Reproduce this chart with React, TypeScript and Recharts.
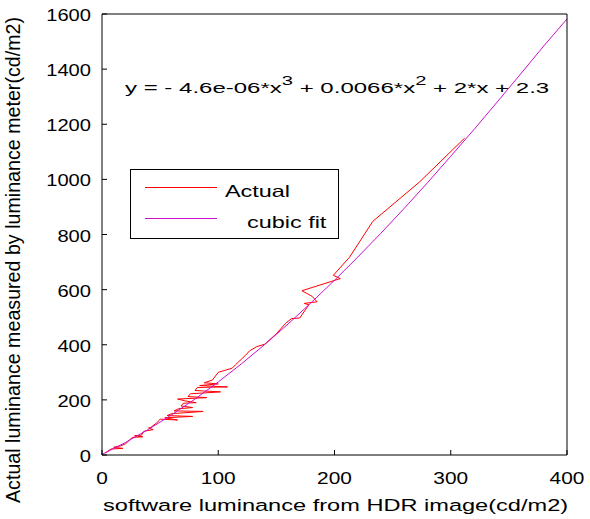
import React from "react";
import {
  LineChart,
  Line,
  XAxis,
  YAxis,
  Legend,
  Customized,
} from "recharts";

// tick values
const xTicks = [0, 100, 200, 300, 400];
const yTicks = [0, 200, 400, 600, 800, 1000, 1200, 1400, 1600];

// measured points, in recording order (hence the zigzags)
const actualX = [3, 8, 18, 10, 16, 20, 24, 26, 35, 28, 34, 36, 44, 40, 42, 48, 50, 65, 54, 78, 56, 60, 87, 62, 66, 78, 68, 70, 81, 72, 65, 90, 74, 76, 102, 80, 82, 108, 84, 100, 88, 95, 100, 112, 115, 123, 127, 133, 140, 150, 158, 163, 170, 178, 174, 185, 181, 172, 205, 199, 213, 233, 273, 312];
const actualY = [8, 22, 24, 28, 33, 40, 55, 64, 66, 70, 72, 86, 92, 98, 100, 120, 130, 127, 135, 140, 143, 150, 158, 160, 168, 172, 178, 188, 190, 196, 203, 208, 212, 222, 229, 234, 245, 247, 252, 258, 262, 272, 300, 315, 328, 360, 378, 393, 402, 440, 478, 495, 497, 545, 550, 556, 575, 596, 640, 652, 718, 848, 990, 1150];

// cubic fit curve
const fitX = [0, 20, 40, 60, 80, 100, 120, 140, 160, 180, 200, 220, 240, 260, 280, 300, 320, 340, 360, 380, 400];
const fitY = [2, 45, 93, 146, 203, 265, 331, 401, 475, 553, 634, 718, 805, 895, 988, 1084, 1181, 1281, 1382, 1484, 1582];

const actualData = actualX.map((x, i) => ({ x, y: actualY[i] }));
const fitData = fitX.map((x, i) => ({ x, y: fitY[i] }));

const FONT = "'Liberation Sans', Arial, sans-serif";
const RED = "#ff0000";
const FIT = "#cc11cc";
// the original figure is widened horizontally
const SX = 1.42;

const BottomTick = ({ x, y, payload }: any) => (
  <g>
    <line x1={x} x2={x} y1={y} y2={y - 5} stroke="#000" />
    <text
      x={x}
      y={y + 29}
      textAnchor="middle"
      fontFamily={FONT}
      fontSize={16.5}
      fill="#000"
      textLength={String(payload.value).length * 11.6}
      lengthAdjust="spacingAndGlyphs"
    >
      {payload.value}
    </text>
  </g>
);

const LeftTick = ({ x, y, payload }: any) => (
  <g>
    <line x1={x} x2={x + 5} y1={y} y2={y} stroke="#000" />
    <text
      x={x - 11}
      y={y + 7}
      textAnchor="end"
      fontFamily={FONT}
      fontSize={16.5}
      fill="#000"
      textLength={String(payload.value).length * 11.2}
      lengthAdjust="spacingAndGlyphs"
    >
      {payload.value}
    </text>
  </g>
);

const TopTick = ({ x, y }: any) => (
  <line x1={x} x2={x} y1={y} y2={y + 5} stroke="#000" />
);

const RightTick = ({ x, y }: any) => (
  <line x1={x} x2={x - 5} y1={y} y2={y} stroke="#000" />
);

// horizontally stretched text
const T = ({ x, y, size, sx = SX, anchor = "start", children }: any) => (
  <g transform={`translate(${x},${y}) scale(${sx},1)`}>
    <text x={0} y={0} textAnchor={anchor} fontFamily={FONT} fontSize={size} fill="#000">
      {children}
    </text>
  </g>
);

const Labels = () => (
  <g>
    <T x={125} y={93} size={15.5} sx={1.55}>
      y = - 4.6e-06*x
      <tspan dy={-8} fontSize={13}>3</tspan>
      <tspan dy={8}> + 0.0066*x</tspan>
      <tspan dy={-8} fontSize={13}>2</tspan>
      <tspan dy={8}> + 2*x + 2.3</tspan>
    </T>
    <T x={103} y={511} size={16.5} sx={1.43}>
      software luminance from HDR image(cd/m2)
    </T>
    <text
      x={0}
      y={0}
      transform="translate(20,260) rotate(-90)"
      textAnchor="middle"
      fontFamily={FONT}
      fontSize={19.5}
      fill="#000"
      textLength={486}
      lengthAdjust="spacingAndGlyphs"
    >
      Actual luminance measured by luminance meter(cd/m2)
    </text>
  </g>
);

const LegendBox = () => (
  <svg width={209} height={70} style={{ display: "block" }}>
    <rect x={0.5} y={0.5} width={208} height={69} fill="#fff" stroke="#000" />
    <line x1={15} x2={87} y1={18.5} y2={18.5} stroke={RED} />
    <T x={95} y={28} size={16.5}>Actual</T>
    <line x1={15} x2={87} y1={49.5} y2={49.5} stroke={FIT} />
    <T x={117} y={59} size={16.5}>cubic fit</T>
  </svg>
);

export default function App() {
  return (
    <div style={{ position: "absolute", left: 0, top: 0, background: "#fff" }}>
      <LineChart
        width={590}
        height={519}
        margin={{ top: 13, right: 22, bottom: 4, left: 40 }}
      >
        <XAxis
          dataKey="x"
          type="number"
          domain={[0, 400]}
          ticks={xTicks}
          tick={<BottomTick />}
          tickLine={false}
          tickSize={0}
          tickMargin={0}
          height={60}
          axisLine={{ stroke: "#000" }}
        />
        <XAxis
          xAxisId="top"
          orientation="top"
          dataKey="x"
          type="number"
          domain={[0, 400]}
          ticks={xTicks}
          tick={<TopTick />}
          tickLine={false}
          tickSize={0}
          tickMargin={0}
          height={1}
          axisLine={{ stroke: "#000" }}
        />
        <YAxis
          type="number"
          domain={[0, 1600]}
          ticks={yTicks}
          tick={<LeftTick />}
          tickLine={false}
          tickSize={0}
          tickMargin={0}
          width={62}
          axisLine={{ stroke: "#000" }}
        />
        <YAxis
          yAxisId="right"
          orientation="right"
          type="number"
          domain={[0, 1600]}
          ticks={yTicks}
          tick={<RightTick />}
          tickLine={false}
          tickSize={0}
          tickMargin={0}
          width={1}
          axisLine={{ stroke: "#000" }}
        />
        <Line
          name="Actual"
          data={actualData}
          dataKey="y"
          type="linear"
          stroke={RED}
          strokeWidth={1}
          dot={false}
          isAnimationActive={false}
        />
        <Line
          name="cubic fit"
          data={fitData}
          dataKey="y"
          type="linear"
          stroke={FIT}
          strokeWidth={1}
          dot={false}
          isAnimationActive={false}
        />
        <Legend
          layout="horizontal"
          verticalAlign="middle"
          align="center"
          content={() => <LegendBox />}
          wrapperStyle={{ position: "absolute", left: 130, top: 169, width: 209, height: 70 }}
        />
        <Customized component={<Labels />} />
      </LineChart>
    </div>
  );
}
